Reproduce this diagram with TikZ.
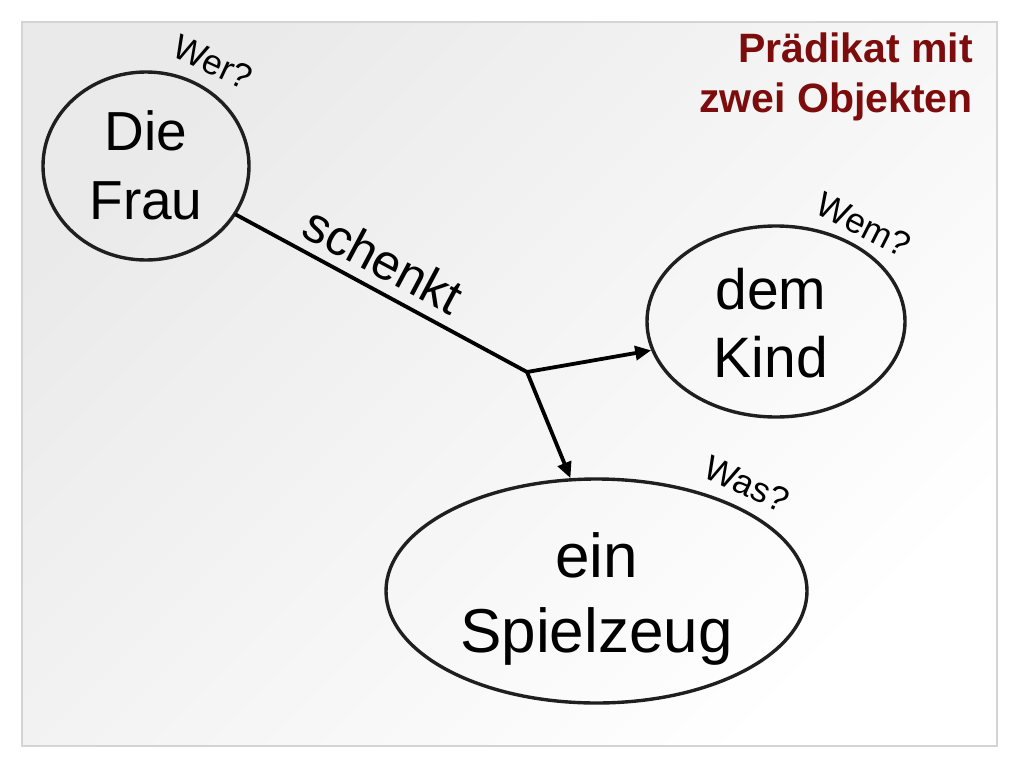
\documentclass[tikz,border=0pt]{standalone}
\usepackage{fontspec}
\setmainfont{Liberation Sans}
\usetikzlibrary{shapes.geometric,arrows.meta}
\definecolor{titlered}{RGB}{125,12,12}
\definecolor{framegray}{RGB}{212,212,212}
\definecolor{bggray}{RGB}{234,234,234}
\begin{document}
\begin{tikzpicture}[x=1pt,y=-1pt,
  oval/.style={ellipse,draw=black!88,line width=3.4pt,inner sep=0pt},
  wordtext/.style={align=center,inner sep=0pt,text=black},
  question/.style={font=\fontsize{35}{40}\selectfont,inner sep=0pt},
  conn/.style={line width=3.8pt,line cap=round},
  arr/.style={line width=3.8pt,-{Triangle[length=16pt,width=14pt]}}
]
\useasboundingbox (0,0) rectangle (1024,768);
\fill[white] (0,0) rectangle (1024,768);
\shade[top color=bggray,bottom color=white,shading angle=45] (22,22) rectangle (997,746);
\draw[framegray,line width=1.5pt] (22,22) rectangle (997,746);

% title
\node[anchor=north east,inner sep=0pt,align=right,text=titlered,
  font=\bfseries\fontsize{41}{50}\selectfont] (title) at (973,33)
  {Prädikat mit\\zwei Objekten};

% ellipses
\node[oval,minimum width=206pt,minimum height=188pt] (frau) at (146,166) {};
\node[oval,minimum width=258pt,minimum height=191pt] (kind) at (776,321.5) {};
\node[oval,minimum width=421pt,minimum height=224pt] (spiel) at (596.5,591) {};

% texts
\node[wordtext,font=\fontsize{55}{69}\selectfont] (frautext) at (146,165.5) {Die\\Frau};
\node[wordtext,font=\fontsize{57}{68}\selectfont] (kindtext) at (771,323) {dem\\Kind};
\node[wordtext,font=\fontsize{62}{75}\selectfont] (spieltext) at (596.5,598.5) {ein\\Spielzeug};

% question labels
\node[question,rotate=-25] (wer) at (213,62) {Wer?};
\node[question,rotate=-27] (wem) at (864,225) {Wem?};
\node[question,rotate=-25] (was) at (747,484) {Was?};

% connectors
\coordinate (j) at (527,372);
\draw[conn] (frau) -- (j);
\draw[arr] (j) -- (kind.193);
\draw[arr] (j) -- (spiel.103);

\node[font=\fontsize{50}{56}\selectfont,inner sep=0pt,rotate=-28] (schenkt) at (383.5,260) {schenkt};
\end{tikzpicture}
\end{document}
